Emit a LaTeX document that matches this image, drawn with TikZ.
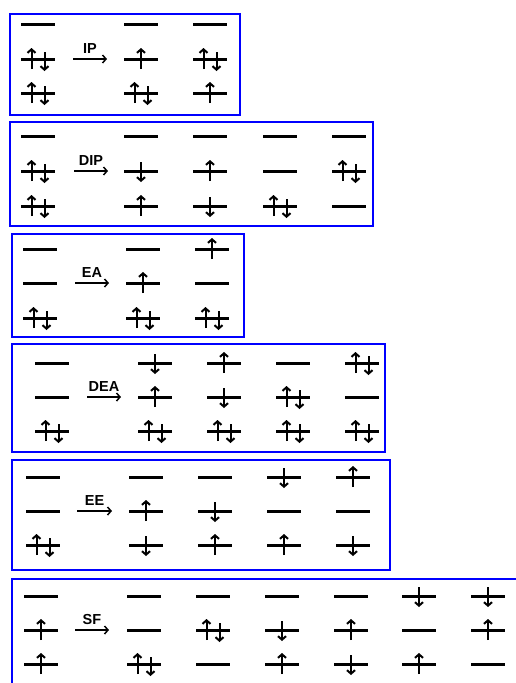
\documentclass[tikz,border=0pt]{standalone}
\usepackage{fontspec}
\setmainfont{Liberation Sans}
\usetikzlibrary{arrows.meta}
\tikzset{
  box/.style={draw=blue, line width=2.6pt},
  levelline/.style={line width=3pt},
  spin/.style={line width=2pt, -{Straight Barb[length=3.5pt,width=8pt]}},
  react/.style={line width=1.5pt, -{Straight Barb[length=3.5pt,width=8pt]}},
  rlabel/.style={above=5pt, inner sep=0pt, font=\bfseries\fontsize{14.5}{16}\selectfont},
  lv0/.pic={\draw[levelline] (-17,0) -- (17,0);},
  lvu/.pic={\draw[levelline] (-17,0) -- (17,0); \draw[spin] (0,10) -- (0,-11);},
  lvd/.pic={\draw[levelline] (-17,0) -- (17,0); \draw[spin] (0,-9) -- (0,11);},
  lvp/.pic={\draw[levelline] (-17,0) -- (17,0);
    \draw[spin] (-6.5,10) -- (-6.5,-11); \draw[spin] (6.5,-7) -- (6.5,12);},
}
\begin{document}
\begin{tikzpicture}[x=1pt, y=-1pt]
\useasboundingbox (0,0) rectangle (516,683);

% IP
\draw[box] (10,14) rectangle (240,115);
\foreach \x/\a/\b/\c in {38/0/p/p, 141/0/u/p, 210/0/p/u}
  {\pic at (\x,24) {lv\a}; \pic at (\x,59) {lv\b}; \pic at (\x,93) {lv\c};}
\coordinate (ipA) at (73,59);
\coordinate (ipB) at (107,59);
\draw[react] (ipA) -- node[rlabel] (iplab) {IP} (ipB);

% DIP
\draw[box] (10,122) rectangle (373,226);
\foreach \x/\a/\b/\c in {38/0/p/p, 141/0/d/u, 210/0/u/d, 280/0/0/p, 349/0/p/0}
  {\pic at (\x,136) {lv\a}; \pic at (\x,171) {lv\b}; \pic at (\x,206) {lv\c};}
\coordinate (dipA) at (74,171);
\coordinate (dipB) at (108,171);
\draw[react] (dipA) -- node[rlabel] (diplab) {DIP} (dipB);

% EA
\draw[box] (12,234) rectangle (244,337);
\foreach \x/\a/\b/\c in {40/0/0/p, 143/0/u/p, 212/u/0/p}
  {\pic at (\x,249) {lv\a}; \pic at (\x,283) {lv\b}; \pic at (\x,318) {lv\c};}
\coordinate (eaA) at (75,283);
\coordinate (eaB) at (109,283);
\draw[react] (eaA) -- node[rlabel] (ealab) {EA} (eaB);

% DEA
\draw[box] (12,344) rectangle (385,452);
\foreach \x/\a/\b/\c in {52/0/0/p, 155/d/u/p, 224/u/d/p, 293/0/p/p, 362/p/0/p}
  {\pic at (\x,363) {lv\a}; \pic at (\x,397) {lv\b}; \pic at (\x,431) {lv\c};}
\coordinate (deaA) at (87,397);
\coordinate (deaB) at (121,397);
\draw[react] (deaA) -- node[rlabel] (dealab) {DEA} (deaB);

% EE
\draw[box] (12,460) rectangle (390,570);
\foreach \x/\a/\b/\c in {43/0/0/p, 146/0/u/d, 215/0/d/u, 284/d/0/u, 353/u/0/d}
  {\pic at (\x,477) {lv\a}; \pic at (\x,511) {lv\b}; \pic at (\x,545) {lv\c};}
\coordinate (eeA) at (77,511);
\coordinate (eeB) at (112,511);
\draw[react] (eeA) -- node[rlabel] (eelab) {EE} (eeB);

% SF
\draw[box] (12,579) rectangle (530,700);
\foreach \x/\a/\b/\c in {41/0/u/u, 144/0/0/p, 213/0/p/0, 282/0/d/u, 351/0/u/d, 419/d/0/u, 488/d/u/0}
  {\pic at (\x,596) {lv\a}; \pic at (\x,630) {lv\b}; \pic at (\x,664) {lv\c};}
\coordinate (sfA) at (75,630);
\coordinate (sfB) at (109,630);
\draw[react] (sfA) -- node[rlabel] (sflab) {SF} (sfB);
\end{tikzpicture}
\end{document}
